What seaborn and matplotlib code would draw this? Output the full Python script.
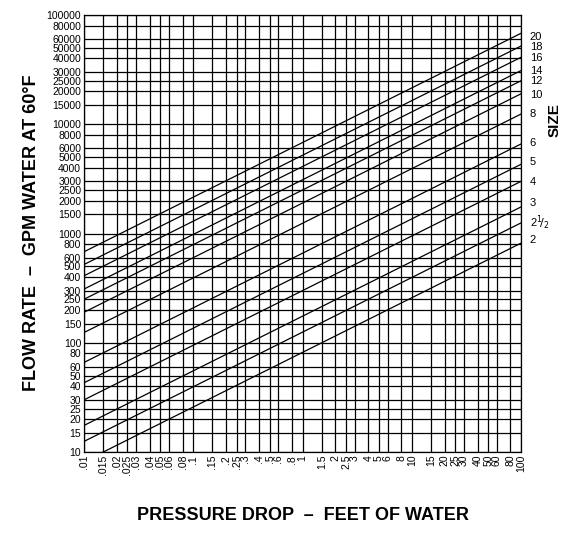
import matplotlib
matplotlib.use("Agg")
import matplotlib.pyplot as plt
import matplotlib.transforms as mtransforms
import seaborn as sns
import pandas as pd

sizes = ["2", "2½", "3", "4", "5", "6", "8", "10", "12", "14", "16", "18", "20"]
size_labels = ["2", "2$^1\\!/_2$", "3", "4", "5", "6", "8", "10", "12", "14", "16", "18", "20"]
flow_at_100ft = [816, 1250, 1750, 3000, 4300, 6600, 12400, 19000, 25000, 31000, 41000, 52000, 68000]
label_y = [880, 1250, 1890, 2950, 4500, 6700, 12300, 18500, 24800, 30600, 40000, 51000, 63000]
pressure_ends = [0.01, 100]

x_ticks = [.01, .015, .02, .025, .03, .04, .05, .06, .08, .1, .15, .2, .25, .3, .4, .5, .6, .8,
           1, 1.5, 2, 2.5, 3, 4, 5, 6, 8, 10, 15, 20, 25, 30, 40, 50, 60, 80, 100]
x_labels = [".01", ".015", ".02", ".025", ".03", ".04", ".05", ".06", ".08", ".1", ".15", ".2", ".25",
            ".3", ".4", ".5", ".6", ".8", "1", "1.5", "2", "2.5", "3", "4", "5", "6", "8", "10", "15",
            "20", "25", "30", "40", "50", "60", "80", "100"]
y_ticks = [10, 15, 20, 25, 30, 40, 50, 60, 80, 100, 150, 200, 250, 300, 400, 500, 600, 800,
           1000, 1500, 2000, 2500, 3000, 4000, 5000, 6000, 8000, 10000, 15000, 20000, 25000,
           30000, 40000, 50000, 60000, 80000, 100000]

rows = []
for s, q in zip(sizes, flow_at_100ft):
    for p in pressure_ends:
        rows.append({"size": s, "dp": p, "flow": q * (p / 100) ** 0.5})
df = pd.DataFrame(rows)

sns.set_style("white")
plt.rcParams["font.family"] = ["Liberation Sans", "DejaVu Sans"]
plt.rcParams["text.color"] = "black"
plt.rcParams["xtick.color"] = "black"
plt.rcParams["ytick.color"] = "black"
fig = plt.figure(figsize=(5.74, 5.37), dpi=100)
ax = fig.add_axes([84/574, 1-452/537, (521-84)/574, (452-15)/537])
ax.set_xscale("log")
ax.set_yscale("log")
sns.lineplot(data=df, x="dp", y="flow", units="size", estimator=None, color="black",
             linewidth=0.9, ax=ax, legend=False)
ax.set_xlim(0.01, 100)
ax.set_ylim(10, 100000)
ax.minorticks_off()
ax.set_xticks(x_ticks)
ax.set_xticklabels(x_labels, rotation=90, fontsize=7.5)
ax.set_yticks(y_ticks)
ax.set_yticklabels([str(v) for v in y_ticks], fontsize=7.5)
ax.tick_params(length=0, pad=2, colors="black")
ax.grid(True, which="major", color="black", linewidth=0.9)
for sp in ax.spines.values():
    sp.set_color("black")
    sp.set_linewidth(0.9)
ax.set_xlabel("")
ax.set_ylabel("")

trans = mtransforms.blended_transform_factory(ax.transAxes, ax.transData)
for lab, yv in zip(size_labels, label_y):
    ax.text(1.02, yv, lab, transform=trans, fontsize=8, va="center", ha="left", color="black")
fig.text(555/574, 1-120/537, "SIZE", rotation=90, fontsize=11, fontweight="bold",
         va="center", ha="center", color="black")
fig.text(0.055, 1-233/537, "FLOW RATE  –  GPM WATER AT 60°F", rotation=90, fontsize=13,
         fontweight="bold", va="center", ha="center", color="black")
fig.text(303/574, 1-515/537, "PRESSURE DROP  –  FEET OF WATER", fontsize=13, fontweight="bold",
         va="center", ha="center", color="black")
fig.savefig("out.png", dpi=100, facecolor="white")
